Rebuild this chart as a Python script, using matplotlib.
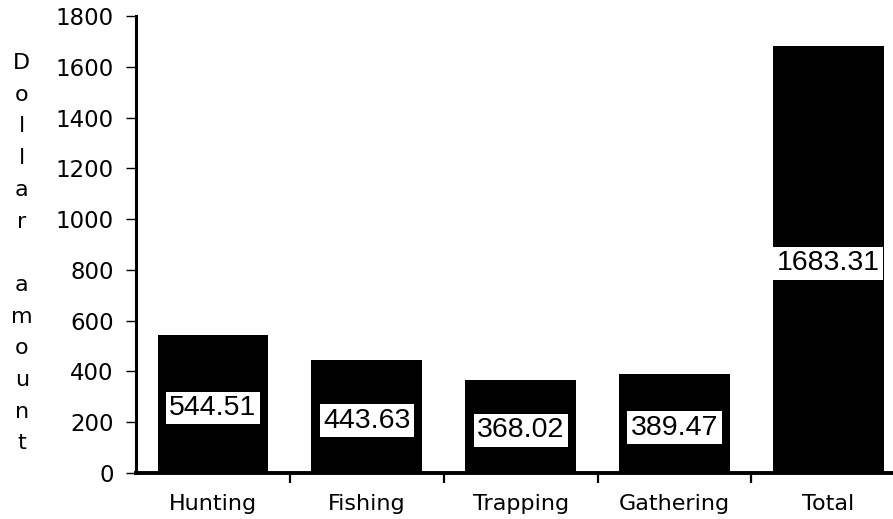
import matplotlib
matplotlib.use("Agg")
import matplotlib.pyplot as plt

# Dollar amounts by activity
categories = ["Hunting", "Fishing", "Trapping", "Gathering", "Total"]
values = [544.51, 443.63, 368.02, 389.47, 1683.31]
y_ticks = [0, 200, 400, 600, 800, 1000, 1200, 1400, 1600, 1800]
y_label = "Dollar amount"

fig = plt.figure(figsize=(8.93, 5.19), dpi=100)
ax = fig.add_axes([0.1523, 0.0886, 0.8477, 0.8806])

x = list(range(len(categories)))
ax.bar(x, values, width=0.72, color="black", zorder=2)

for xi, v in zip(x, values):
    ax.annotate(f"{v:.2f}", xy=(xi, v / 2), xytext=(0, -3),
                textcoords="offset points", ha="center", va="center",
                fontsize=20.5, family="Liberation Sans", color="black",
                bbox=dict(boxstyle="square,pad=0.12", fc="white", ec="none"),
                zorder=3)

ax.set_xlim(-0.5, 4.42)
ax.set_ylim(0, 1800)
ax.set_yticks(y_ticks)
ax.set_yticklabels([str(t) for t in y_ticks])

ax.set_xticks(x)
ax.set_xticklabels(categories)
ax.set_xticks([i + 0.5 for i in x[:-1]], minor=True)

for s in ("top", "right"):
    ax.spines[s].set_visible(False)
ax.spines["left"].set_linewidth(2.2)
ax.spines["bottom"].set_linewidth(2.8)

ax.tick_params(axis="y", direction="out", length=7, width=1.0,
               pad=9, labelsize=16.5)
ax.tick_params(axis="x", which="major", length=0, pad=15, labelsize=16)
ax.tick_params(axis="x", which="minor", direction="out", length=7, width=1.6)

# Vertical, letter-stacked axis title
ax.text(-0.151, 0.481, "\n".join(y_label), transform=ax.transAxes,
        ha="center", va="center", fontsize=16, linespacing=1.73)

fig.savefig("out.png", dpi=100)
